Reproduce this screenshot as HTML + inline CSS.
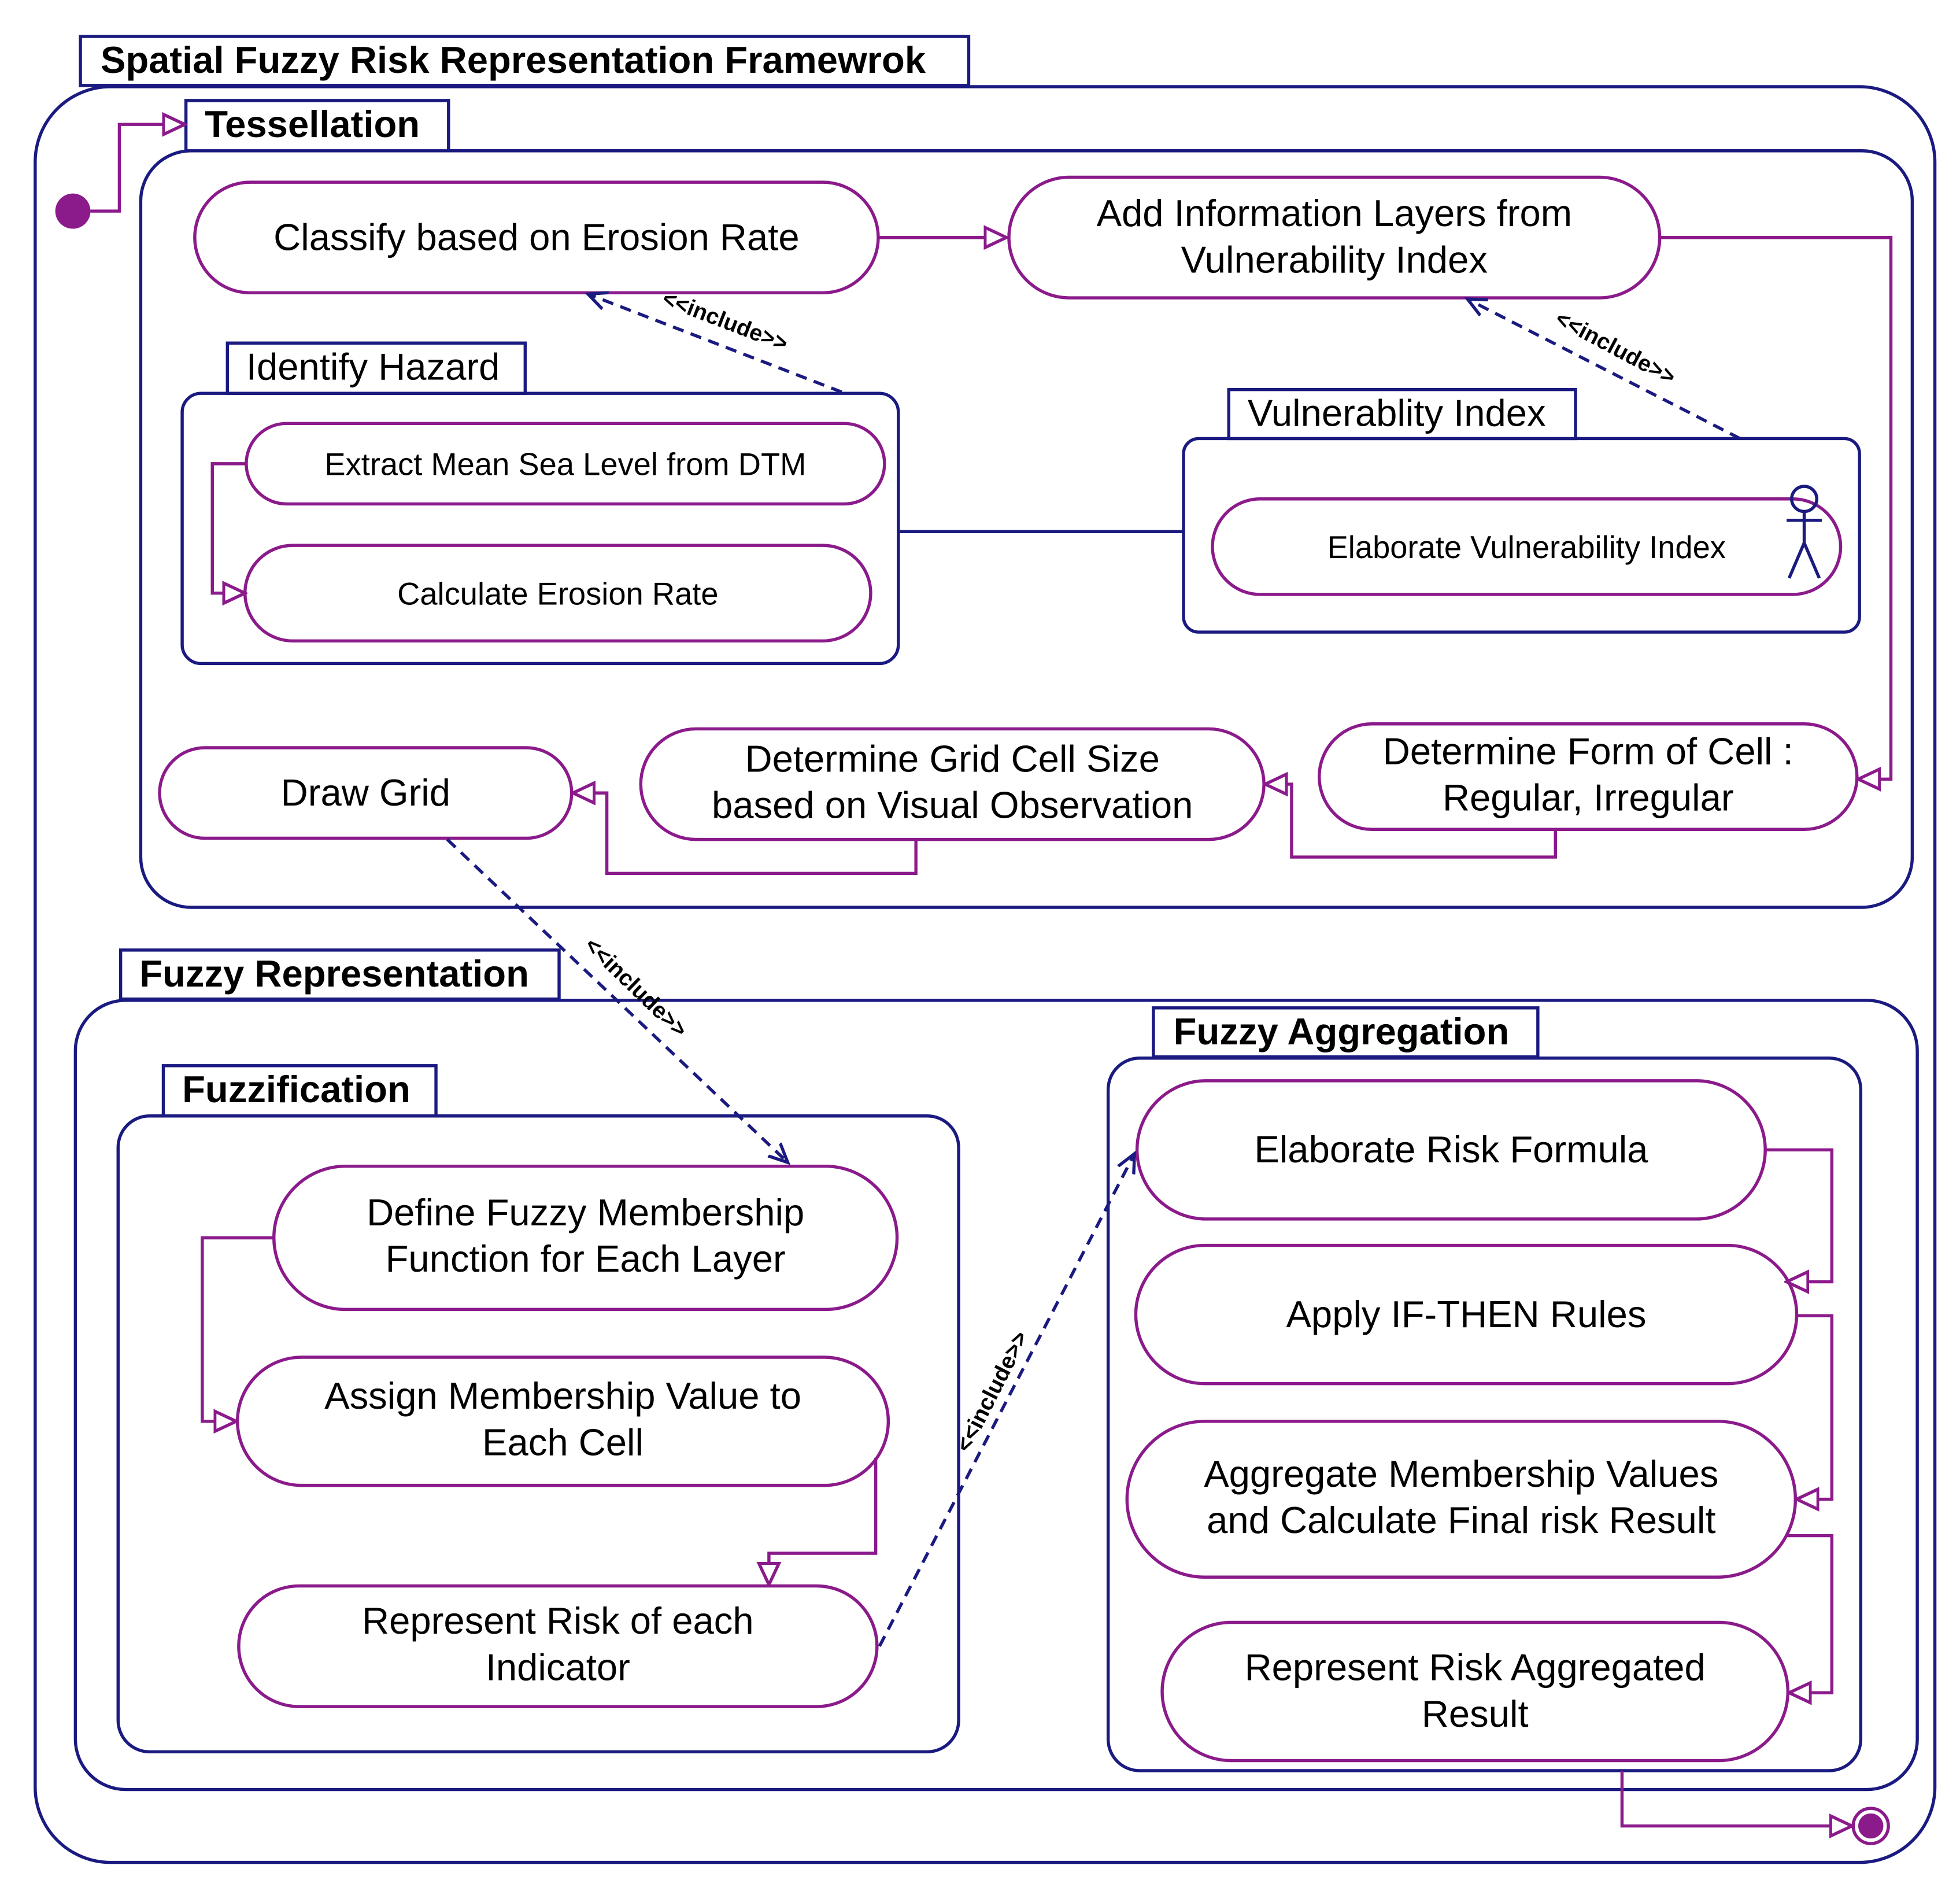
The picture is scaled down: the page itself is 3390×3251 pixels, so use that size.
<!DOCTYPE html>
<html><head><meta charset="utf-8"><style>html,body{margin:0;padding:0;background:#fff}svg{display:block}text{font-family:"Liberation Sans",Arial,sans-serif;fill:#000}</style></head>
<body>
<svg width="3390" height="3251" viewBox="0 0 1560 1496" preserveAspectRatio="none" xmlns="http://www.w3.org/2000/svg">
<defs>
<marker id="pa" markerWidth="20" markerHeight="20" refX="18" refY="9" orient="auto" markerUnits="userSpaceOnUse" viewBox="0 0 20 18"><path d="M1,1 L18,9 L1,17 Z" fill="#fff" stroke="#8b1a8b" stroke-width="2.5"/></marker>
<marker id="na" markerWidth="18" markerHeight="18" refX="15" refY="8" orient="auto" markerUnits="userSpaceOnUse" viewBox="0 0 18 16"><path d="M0,1 L15,8 L0,15" fill="none" stroke="#1a1a80" stroke-width="2.5"/></marker>
</defs>
<g fill="none" stroke="#1a1a80" stroke-width="2.5">
<rect x="64" y="29" width="707" height="39" fill="#fff"/>
<rect x="28" y="69" width="1512" height="1413" rx="60"/>
<rect x="112" y="120" width="1410" height="602" rx="40"/>
<rect x="148" y="80" width="209" height="40" fill="#fff"/>
<rect x="145" y="313" width="570" height="215" rx="15"/>
<rect x="181" y="273" width="237" height="40" fill="#fff"/>
<rect x="942" y="349" width="538" height="154" rx="12"/>
<rect x="978" y="310" width="276" height="39" fill="#fff"/>
<line x1="715" y1="423" x2="942" y2="423"/>
<rect x="60" y="796" width="1466" height="628" rx="40"/>
<rect x="96" y="756" width="349" height="39" fill="#fff"/>
<rect x="94" y="888" width="669" height="506" rx="25"/>
<rect x="130" y="848" width="217" height="40" fill="#fff"/>
<rect x="882" y="842" width="599" height="567" rx="25"/>
<rect x="918" y="802" width="306" height="39" fill="#fff"/>
</g>
<g font-size="30" font-weight="bold">
<text x="80" y="58">Spatial Fuzzy Risk Representation Framewrok</text>
<text x="163" y="109">Tessellation</text>
<text x="111" y="785">Fuzzy Representation</text>
<text x="145" y="877">Fuzzification</text>
<text x="934" y="831">Fuzzy Aggregation</text>
</g>
<g font-size="30">
<text x="196" y="302">Identify Hazard</text>
<text x="993" y="339">Vulnerablity Index</text>
</g>
<g fill="#fff" stroke="#8b1a8b" stroke-width="2.5">
<rect x="155" y="145" width="544" height="88" rx="44"/>
<rect x="803" y="141" width="518" height="96" rx="48"/>
<rect x="196" y="337" width="508" height="64" rx="32"/>
<rect x="195" y="434" width="498" height="76" rx="38"/>
<rect x="965" y="397" width="500" height="76" rx="38"/>
<rect x="127" y="595" width="328" height="72" rx="36"/>
<rect x="510" y="580" width="496" height="88" rx="44"/>
<rect x="1050" y="576" width="428" height="84" rx="42"/>
<rect x="218" y="928" width="496" height="114" rx="57"/>
<rect x="189" y="1080" width="518" height="102" rx="51"/>
<rect x="190" y="1262" width="508" height="96" rx="48"/>
<rect x="905" y="860" width="500" height="110" rx="55"/>
<rect x="904" y="991" width="526" height="110" rx="55"/>
<rect x="897" y="1131" width="532" height="124" rx="62"/>
<rect x="925" y="1291" width="498" height="110" rx="55"/>
</g>
<g font-size="30" text-anchor="middle">
<text x="427" y="199">Classify based on Erosion Rate</text>
<text x="1062" y="180">Add Information Layers from</text>
<text x="1062" y="217">Vulnerability Index</text>
<text x="291" y="641">Draw Grid</text>
<text x="758" y="614">Determine Grid Cell Size</text>
<text x="758" y="651">based on Visual Observation</text>
<text x="1264" y="608">Determine Form of Cell :</text>
<text x="1264" y="645">Regular, Irregular</text>
<text x="466" y="975">Define Fuzzy Membership</text>
<text x="466" y="1012">Function for Each Layer</text>
<text x="448" y="1121">Assign Membership Value to</text>
<text x="448" y="1158">Each Cell</text>
<text x="444" y="1300">Represent Risk of each</text>
<text x="444" y="1337">Indicator</text>
<text x="1155" y="925">Elaborate Risk Formula</text>
<text x="1167" y="1056">Apply IF-THEN Rules</text>
<text x="1163" y="1183">Aggregate Membership Values</text>
<text x="1163" y="1220">and Calculate Final risk Result</text>
<text x="1174" y="1337">Represent Risk Aggregated</text>
<text x="1174" y="1374">Result</text>
</g>
<g font-size="25" text-anchor="middle">
<text x="450" y="378">Extract Mean Sea Level from DTM</text>
<text x="444" y="481">Calculate Erosion Rate</text>
<text x="1215" y="444">Elaborate Vulnerability Index</text>
</g>
<g fill="none" stroke="#1a1a80" stroke-width="2.5">
<circle cx="1436" cy="397" r="10"/>
<path d="M1436,407 V432 M1422,414 H1450 M1436,432 L1424,460 M1436,432 L1448,460"/>
</g>
<g fill="none" stroke="#8b1a8b" stroke-width="2.5">
<path d="M72,168 H95 V99 H147" marker-end="url(#pa)"/>
<path d="M700,189 H801" marker-end="url(#pa)"/>
<path d="M1321,189 H1505 V620 H1479" marker-end="url(#pa)"/>
<path d="M196,369 H169 V472 H195" marker-end="url(#pa)"/>
<path d="M1238,660 V682 H1028 V624 H1007" marker-end="url(#pa)"/>
<path d="M729,668 V695 H483 V631 H456" marker-end="url(#pa)"/>
<path d="M218,985 H161 V1131 H188" marker-end="url(#pa)"/>
<path d="M697,1160 V1236 H612 V1261" marker-end="url(#pa)"/>
<path d="M1405,915 H1458 V1020 H1422" marker-end="url(#pa)"/>
<path d="M1430,1047 H1458 V1193 H1430" marker-end="url(#pa)"/>
<path d="M1422,1222 H1458 V1347 H1424" marker-end="url(#pa)"/>
<path d="M1291,1409 V1453 H1474" marker-end="url(#pa)"/>
</g>
<circle cx="58" cy="168" r="14" fill="#8b1a8b"/>
<circle cx="1489" cy="1453" r="14" fill="#fff" stroke="#8b1a8b" stroke-width="2.5"/>
<circle cx="1489" cy="1453" r="10" fill="#8b1a8b"/>
<g fill="none" stroke="#1a1a80" stroke-width="2.5" stroke-dasharray="9,6">
<path d="M670,312 L468,234" marker-end="url(#na)"/>
<path d="M1385,349 L1168,238" marker-end="url(#na)"/>
<path d="M356,668 L627,925" marker-end="url(#na)"/>
<path d="M700,1310 L903,918" marker-end="url(#na)"/>
</g>
<g font-size="18" font-weight="bold" text-anchor="middle">
<text transform="translate(575,261) rotate(21)">&lt;&lt;include&gt;&gt;</text>
<text transform="translate(1283,282) rotate(28)">&lt;&lt;include&gt;&gt;</text>
<text transform="translate(502,790) rotate(44)">&lt;&lt;include&gt;&gt;</text>
<text transform="translate(795,1110) rotate(-63)">&lt;&lt;include&gt;&gt;</text>
</g>
</svg>
</body></html>
